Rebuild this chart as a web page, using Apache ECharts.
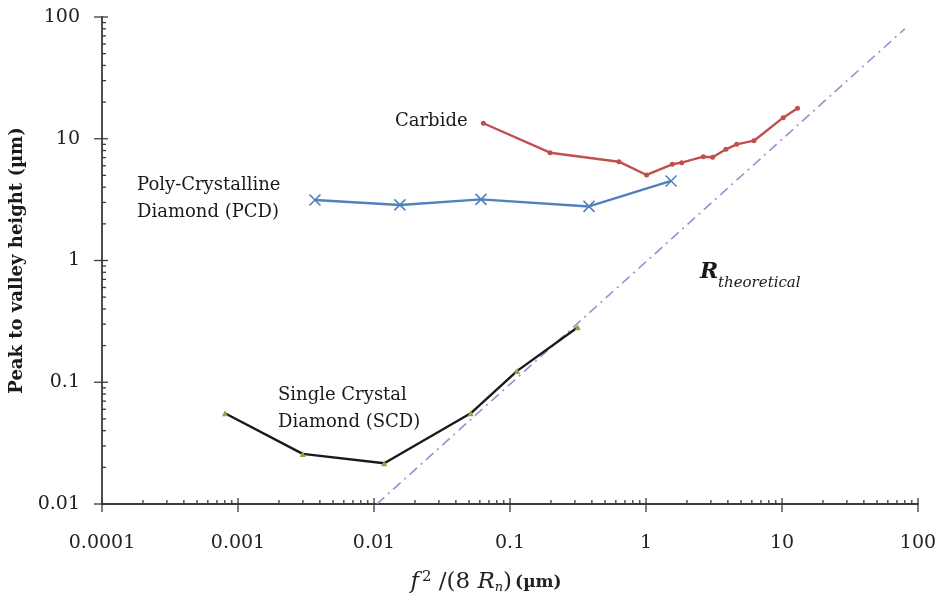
<!DOCTYPE html>
<html>
<head>
<meta charset="utf-8">
<script src="https://cdn.jsdelivr.net/npm/echarts@6/dist/echarts.min.js"></script>
<style>
  html, body { margin: 0; padding: 0; background: #fff; }
  #chart { width: 940px; height: 604px; }
</style>
</head>
<body>
<div id="chart"></div>
<script>
// Feed term f^2/(8 R_n) (µm) and measured peak-to-valley heights (µm)
const carbideX = [0.0637, 0.197, 0.632, 1.01, 1.56, 1.83, 2.64, 3.09, 3.87, 4.64, 6.22, 10.2, 13.0];
const carbideY = [13.4, 7.68, 6.48, 5.04, 6.17, 6.36, 7.12, 7.04, 8.19, 9.0, 9.64, 14.9, 17.8];

const pcdX = [0.00368, 0.0155, 0.0612, 0.381, 1.53];
const pcdY = [3.14, 2.86, 3.18, 2.78, 4.5];

const scdX = [0.000802, 0.00299, 0.0119, 0.0514, 0.113, 0.315];
const scdY = [0.0556, 0.0258, 0.0216, 0.0556, 0.124, 0.283];

// Theoretical roughness R = f^2/(8 R_n): a unit-slope line
const theoryX = [0.0105, 80];
const theoryY = [0.01, 80];

const xTickLabels = ['0.0001', '0.001', '0.01', '0.1', '1', '10', '100'];
const yTickLabels = ['0.01', '0.1', '1', '10', '100'];

const X_MIN = 0.0001, X_MAX = 100, Y_MIN = 0.01, Y_MAX = 100;
const FONT = 'DejaVu Serif';

const zip = (xs, ys) => xs.map((x, i) => [x, ys[i]]);

// Tick positions on a log axis: decades are major, 2..9 multiples are minor
function logTicks(min, max) {
  const out = [];
  const d0 = Math.round(Math.log10(min)), d1 = Math.round(Math.log10(max));
  for (let d = d0; d <= d1; d++) {
    const base = Math.pow(10, d);
    out.push({ v: base, major: true });
    if (d < d1) for (let k = 2; k <= 9; k++) out.push({ v: k * base, major: false });
  }
  return out;
}
const xTicks = logTicks(X_MIN, X_MAX);
const yTicks = logTicks(Y_MIN, Y_MAX);

const TICK_COLOR = '#3a3a3a';

function xTickRender(params, api) {
  const p = api.coord([api.value(0), Y_MIN]);
  const major = api.value(2) === 1;
  return {
    type: 'line',
    shape: { x1: p[0], y1: p[1] + (major ? 8 : 0), x2: p[0], y2: p[1] - (major ? 6 : 4) },
    style: { stroke: TICK_COLOR, lineWidth: 1.3 }
  };
}
function yTickRender(params, api) {
  const p = api.coord([X_MIN, api.value(1)]);
  const major = api.value(2) === 1;
  return {
    type: 'line',
    shape: { x1: p[0] - (major ? 8 : 0), y1: p[1], x2: p[0] + (major ? 6 : 4), y2: p[1] },
    style: { stroke: TICK_COLOR, lineWidth: 1.3 }
  };
}

const chart = echarts.init(document.getElementById('chart'), null, { renderer: 'canvas' });

const crossPath = 'path://M0,0 L10,10 M10,0 L0,10';

chart.setOption({
  backgroundColor: '#ffffff',
  animation: false,
  textStyle: { fontFamily: FONT },
  grid: { left: 102, right: 22, top: 17, bottom: 100, containLabel: false },
  xAxis: {
    type: 'log', logBase: 10, min: X_MIN, max: X_MAX,
    axisLine: { show: true, lineStyle: { color: '#3a3a3a', width: 1.8 } },
    axisTick: { show: false },
    minorTick: { show: false },
    splitLine: { show: false },
    axisLabel: {
      margin: 30, fontFamily: FONT, fontSize: 19, color: '#222',
      formatter: v => {
        const e = Math.round(Math.log10(v));
        return xTickLabels[e + 4] !== undefined ? xTickLabels[e + 4] : '';
      }
    },
    name: '{i|f}{sup|2}{n| /(8 }{i|R}{sub|n}{n|)}{b|(µm)}',
    nameLocation: 'middle', nameGap: 66,
    nameTextStyle: {
      padding: [0, 48, 0, 0],
      rich: {
        i: { fontFamily: FONT, fontStyle: 'italic', fontSize: 23, color: '#222' },
        sup: { fontFamily: FONT, fontSize: 15, color: '#222', verticalAlign: 'top', padding: [0, 0, 10, 3] },
        sub: { fontFamily: FONT, fontStyle: 'italic', fontSize: 13, color: '#222', padding: [10, 0, 0, 0] },
        n: { fontFamily: FONT, fontSize: 23, color: '#222' },
        b: { fontFamily: FONT, fontWeight: 'bold', fontSize: 17, color: '#222', padding: [0, 0, 0, 3] }
      }
    }
  },
  yAxis: {
    type: 'log', logBase: 10, min: Y_MIN, max: Y_MAX,
    axisLine: { show: true, lineStyle: { color: '#3a3a3a', width: 1.8 } },
    axisTick: { show: false },
    minorTick: { show: false },
    splitLine: { show: false },
    axisLabel: {
      margin: 22, fontFamily: FONT, fontSize: 19, color: '#222',
      formatter: v => {
        const e = Math.round(Math.log10(v));
        return yTickLabels[e + 2] !== undefined ? yTickLabels[e + 2] : '';
      }
    },
    name: 'Peak to valley height (µm)',
    nameLocation: 'middle', nameGap: 72, nameRotate: 90,
    nameTextStyle: { fontFamily: FONT, fontWeight: 'bold', fontSize: 18, color: '#1a1a1a' }
  },
  graphic: [
    { type: 'text', left: 395, top: 112, style: { text: 'Carbide', font: '18px "DejaVu Serif"', fill: '#1a1a1a' } },
    { type: 'text', left: 137, top: 172, style: { text: 'Poly-Crystalline\nDiamond (PCD)', font: '18px "DejaVu Serif"', fill: '#1a1a1a', lineHeight: 27 } },
    { type: 'text', left: 278, top: 382, style: { text: 'Single Crystal\nDiamond (SCD)', font: '18px "DejaVu Serif"', fill: '#1a1a1a', lineHeight: 27 } },
    { type: 'text', left: 700, top: 261, style: { text: 'R', font: 'italic bold 22px "DejaVu Serif"', fill: '#1a1a1a' } },
    { type: 'text', left: 718, top: 276, style: { text: 'theoretical', font: 'italic 15px "DejaVu Serif"', fill: '#1a1a1a' } }
  ],
  series: [
    {
      name: 'theory', type: 'line', data: zip(theoryX, theoryY),
      showSymbol: false, symbol: 'none', silent: true,
      lineStyle: { color: '#9d8dd0', width: 1.6, type: [10, 5, 2, 5] },
      z: 1
    },
    {
      name: 'Carbide', type: 'line', data: zip(carbideX, carbideY),
      symbol: 'circle', symbolSize: 5,
      lineStyle: { color: '#c0504d', width: 2.4 },
      itemStyle: { color: '#c0504d' }, z: 3
    },
    {
      name: 'PCD', type: 'line', data: zip(pcdX, pcdY),
      symbol: crossPath, symbolSize: 11,
      lineStyle: { color: '#4f81bd', width: 2.4 },
      itemStyle: { color: '#4f81bd', borderColor: '#4f81bd', borderWidth: 1.6 }, z: 3
    },
    {
      name: 'SCD', type: 'line', data: zip(scdX, scdY),
      symbol: 'triangle', symbolSize: 6,
      lineStyle: { color: '#1a1a1a', width: 2.4 },
      itemStyle: { color: '#86ad3f' }, z: 3
    },
    {
      name: 'xticks', type: 'custom', renderItem: xTickRender, silent: true, clip: false,
      data: xTicks.map(t => [t.v, Y_MIN, t.major ? 1 : 0]), z: 5
    },
    {
      name: 'yticks', type: 'custom', renderItem: yTickRender, silent: true, clip: false,
      data: yTicks.map(t => [X_MIN, t.v, t.major ? 1 : 0]), z: 5
    }
  ]
});
</script>
</body>
</html>
